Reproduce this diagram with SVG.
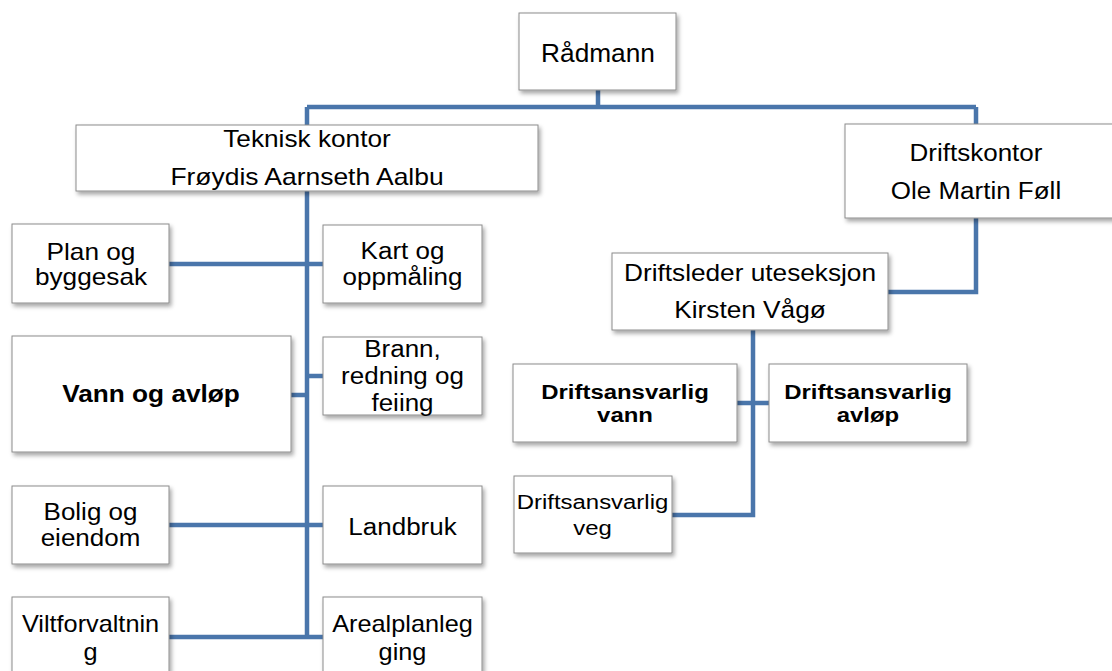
<svg xmlns="http://www.w3.org/2000/svg" width="1112" height="671" viewBox="0 0 1112 671">
<defs>
<filter id="sh" x="-10%" y="-10%" width="130%" height="140%">
<feDropShadow dx="2" dy="3" stdDeviation="2" flood-color="#000" flood-opacity="0.35"/>
</filter>
<style>
.box{fill:#fff;stroke:#8c8c8c;stroke-width:1;filter:url(#sh)}
.con{fill:none;stroke:#4a76ab;stroke-width:4.5}
text{font-family:"Liberation Sans",Arial,sans-serif;font-size:23px;fill:#000;text-anchor:middle}
.b{font-weight:bold}
.s{font-size:21px}
</style>
</defs>
<rect width="1112" height="671" fill="#fff"/>
<g id="connectors">
<path class="con" d="M598,90 V107 M307,107 H976 M307,107 V125 M976,107 V124"/>
<path class="con" d="M307,191 V637"/>
<path class="con" d="M169,264 H323 M291,395 H307 M307,376 H323 M169,525 H323 M169,637 H323"/>
<path class="con" d="M976,218 V292 H888"/>
<path class="con" d="M753,330 V515 H672 M737,403 H769"/>
</g>
<g id="radmann">
<rect class="box" x="519" y="13" width="157" height="77"/>
<text transform="translate(598,62) scale(1.05,1)" style="font-size:25px">Rådmann</text>
</g>
<g id="teknisk">
<rect class="box" x="76" y="125" width="462" height="66"/>
<text transform="translate(307,147) scale(1.14,1)">Teknisk kontor</text>
<text transform="translate(307,185) scale(1.15,1)">Frøydis Aarnseth Aalbu</text>
</g>
<g id="driftskontor">
<rect class="box" x="845" y="124" width="280" height="94"/>
<text transform="translate(976,161) scale(1.13,1)">Driftskontor</text>
<text transform="translate(976,199) scale(1.13,1)">Ole Martin Føll</text>
</g>
<g id="plan">
<rect class="box" x="12" y="224" width="157" height="79"/>
<text transform="translate(91,260) scale(1.14,1)"><tspan x="0">Plan og</tspan><tspan x="0" dy="25">byggesak</tspan></text>
</g>
<g id="kart">
<rect class="box" x="323" y="225" width="159" height="78"/>
<text transform="translate(402.5,259) scale(1.13,1)"><tspan x="0">Kart og</tspan><tspan x="0" dy="26">oppmåling</tspan></text>
</g>
<g id="vann">
<rect class="box" x="12" y="336" width="279" height="116"/>
<text class="b" transform="translate(151,402) scale(1.14,1)">Vann og avløp</text>
</g>
<g id="brann">
<rect class="box" x="323" y="337" width="159" height="78"/>
<text transform="translate(402.5,357) scale(1.13,1)"><tspan x="0">Brann,</tspan><tspan x="0" dy="27">redning og</tspan><tspan x="0" dy="27">feiing</tspan></text>
</g>
<g id="bolig">
<rect class="box" x="12" y="486" width="157" height="78"/>
<text transform="translate(90.5,520) scale(1.13,1)"><tspan x="0">Bolig og</tspan><tspan x="0" dy="26">eiendom</tspan></text>
</g>
<g id="landbruk">
<rect class="box" x="323" y="486" width="159" height="78"/>
<text transform="translate(402.5,535) scale(1.13,1)">Landbruk</text>
</g>
<g id="vilt">
<rect class="box" x="12" y="597" width="157" height="90"/>
<text transform="translate(90.5,632) scale(1.1,1)"><tspan x="0">Viltforvaltnin</tspan><tspan x="0" dy="28">g</tspan></text>
</g>
<g id="areal">
<rect class="box" x="323" y="597" width="159" height="90"/>
<text transform="translate(402.5,632) scale(1.1,1)"><tspan x="0">Arealplanleg</tspan><tspan x="0" dy="28">ging</tspan></text>
</g>
<g id="driftsleder">
<rect class="box" x="612" y="253" width="276" height="77"/>
<text transform="translate(750,281) scale(1.14,1)">Driftsleder uteseksjon</text>
<text transform="translate(750,318) scale(1.14,1)">Kirsten Vågø</text>
</g>
<g id="da-vann">
<rect class="box" x="513" y="364" width="224" height="78"/>
<text class="b s" transform="translate(625,399) scale(1.14,1)"><tspan x="0">Driftsansvarlig</tspan><tspan x="0" dy="23">vann</tspan></text>
</g>
<g id="da-avlop">
<rect class="box" x="769" y="364" width="198" height="78"/>
<text class="b s" transform="translate(868,399) scale(1.14,1)"><tspan x="0">Driftsansvarlig</tspan><tspan x="0" dy="23">avløp</tspan></text>
</g>
<g id="da-veg">
<rect class="box" x="514" y="476" width="158" height="77"/>
<text class="s" transform="translate(592.5,509) scale(1.14,1)"><tspan x="0">Driftsansvarlig</tspan><tspan x="0" dy="26">veg</tspan></text>
</g>
</svg>
